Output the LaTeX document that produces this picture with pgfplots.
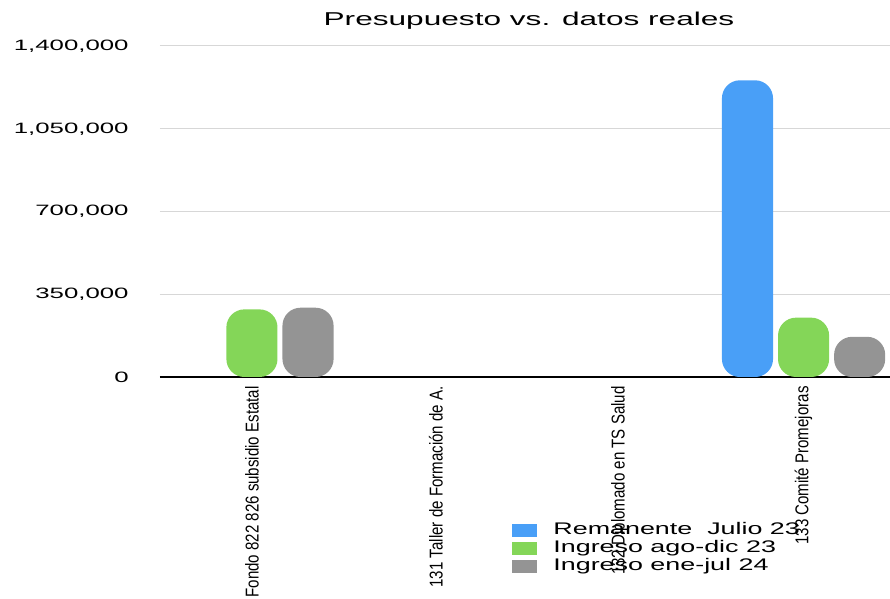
\documentclass[border=0pt]{standalone}
\usepackage{fontspec}
\setmainfont{Liberation Sans}
\newfontfamily\titlefont[FakeStretch=1.7]{Liberation Sans}
\newfontfamily\tickfont[FakeStretch=1.72]{Liberation Sans}
\newfontfamily\legfont[FakeStretch=1.6]{Liberation Sans}
\newfontfamily\narrowfont[FakeStretch=0.81]{Liberation Sans}
\usepackage{pgfplots}
\pgfplotsset{compat=1.18}

\definecolor{barblue}{RGB}{73,159,247}
\definecolor{bargreen}{RGB}{132,214,88}
\definecolor{bargray}{RGB}{148,148,148}
\definecolor{gridgray}{RGB}{215,215,215}

\begin{document}
\begin{tikzpicture}
\useasboundingbox (-80pt,-111pt) rectangle (365pt,188.5pt);
\begin{axis}[
    scale only axis,
    width=365pt, height=165.5pt,
    xmin=-0.5, xmax=3.47,
    ymin=0, ymax=1400000,
    axis x line*=bottom, axis y line*=left,
    x axis line style={-, black, line width=0.75pt},
    y axis line style={draw=none},
    major tick length=0pt,
    ymajorgrids=true,
    grid style={gridgray, line width=0.5pt},
    ytick={0,350000,700000,1050000,1400000},
    scaled y ticks=false,
    yticklabel style={/pgf/number format/.cd, fixed, 1000 sep={,}, assume math mode=true, /tikz/.cd,
        font=\tickfont\fontsize{7.5}{9}\selectfont, anchor=east, inner sep=0pt, xshift=-15.5pt},
    xtick={0,1,2,3},
    xticklabels={Fondo 822 826 subsidio Estatal, 131 Taller de Formación de A., 132 Diplomado en TS Salud, 133 Comité Promejoras},
    xticklabel style={yshift=-4.5pt, rotate=90, anchor=east, inner sep=0pt,
        font=\narrowfont\fontsize{9.3}{11}\selectfont},
    title={Presupuesto vs. datos reales},
    title style={font=\titlefont\fontsize{9.3}{11}\selectfont, at={(0.5055,1)}, anchor=base, yshift=4pt, inner sep=0pt},
    legend style={draw=none, fill=none, at={(0.4822,-0.4366)}, anchor=north west,
        inner sep=0pt, row sep=0pt, column sep=8pt,
        font=\legfont\fontsize{8.4}{9}\selectfont,
        nodes={inner sep=0pt, text height=6.3pt, text depth=2.7pt}},
    legend cell align=left,
    legend image code/.code={\fill[#1, rounded corners=0pt] (0pt,-3.25pt) rectangle (12.5pt,3.25pt);},
]
\addplot[ybar, bar width=0.278, bar shift=-0.305, fill=barblue, draw=none, rounded corners=9pt]
    coordinates {(3,1255000)};
\addplot[ybar, bar width=0.278, bar shift=0, fill=bargreen, draw=none, rounded corners=9pt]
    coordinates {(0,286000)(3,251000)};
\addplot[ybar, bar width=0.278, bar shift=0.305, fill=bargray, draw=none, rounded corners=9pt]
    coordinates {(0,293000)(3,170000)};
\legend{Remanente\ \ Julio 23, Ingreso ago-dic 23, Ingreso ene-jul 24}
\end{axis}
\end{tikzpicture}
\end{document}
